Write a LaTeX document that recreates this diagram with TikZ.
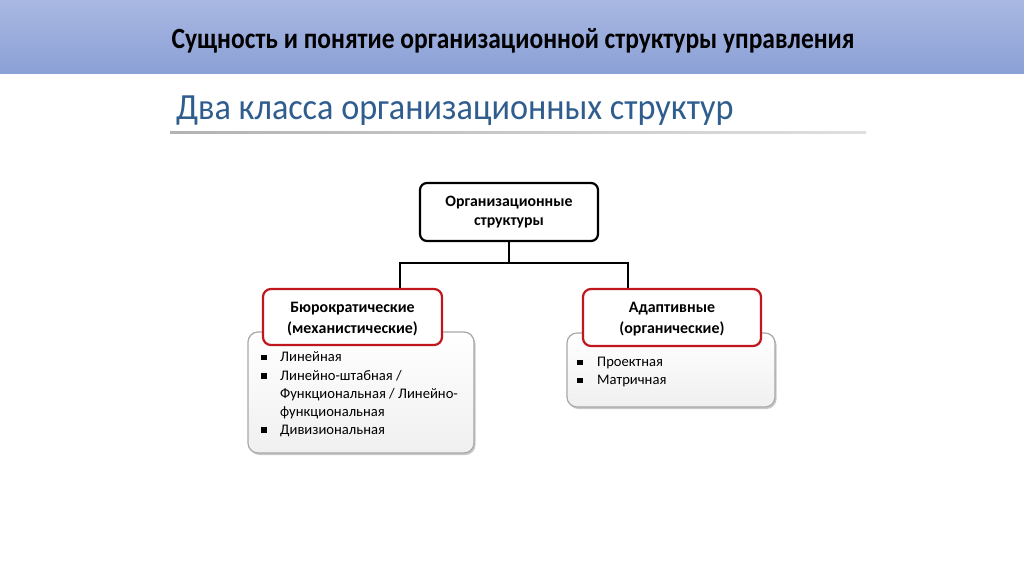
\documentclass[tikz,border=0pt]{standalone}
\usepackage{fontspec}
\setmainfont{Carlito}
\usetikzlibrary{shadows}
\definecolor{hdtop}{HTML}{A9B8E2}
\definecolor{hdbot}{HTML}{8BA0D6}
\definecolor{subblue}{HTML}{2F5D8E}
\definecolor{redb}{HTML}{C0161E}
\definecolor{grayb}{HTML}{A8A8A8}
\tikzset{
  topbox/.style={draw=black,line width=2.2pt,rounded corners=7pt,fill=white},
  redbox/.style={draw=redb,line width=2.2pt,rounded corners=8pt,fill=white},
  graybox/.style={draw=grayb,line width=1.2pt,rounded corners=10pt,top color=white,bottom color=gray!12,
     drop shadow={shadow xshift=1.5pt,shadow yshift=-2pt,fill=black!35,opacity=0.6}},
  conn/.style={draw=black,line width=2pt},
  boxtext/.style={font=\bfseries\fontsize{15.8}{19}\selectfont,align=center},
  redtext/.style={font=\bfseries\fontsize{15.9}{21}\selectfont,align=center},
  itemtext/.style={font=\fontsize{14.6}{18}\selectfont,anchor=base west,inner sep=0pt},
}
\newcommand{\bul}{\rule[1.5pt]{5.5pt}{5.5pt}}
\begin{document}
\begin{tikzpicture}[x=1pt,y=-1pt]
\useasboundingbox (0,0) rectangle (1024,574);
\fill[white] (0,0) rectangle (1024,574);
% header
\shade[top color=hdtop,bottom color=hdbot] (0,0) rectangle (1024,73);
\node[font=\bfseries\fontsize{25.5}{28}\selectfont] (title) at (513,41) {\scalebox{1}[1.15]{Сущность и понятие организационной структуры управления}};
% subtitle
\node[font=\fontsize{34.2}{36}\selectfont,text=subblue,anchor=west,inner sep=0pt] (sub) at (176,111) {\scalebox{1}[1.08]{Два класса организационных структур}};
\shade[left color=gray!60,right color=gray!25] (170,131) rectangle (866,133.5);
% top box
\draw[topbox] (420,183) rectangle (598,241);
\node[boxtext] (top) at (509,212.5) {Организационные\\структуры};
% gray boxes
\draw[graybox] (248,332) rectangle (474,453);
\draw[graybox] (567,333) rectangle (775,407);
% red boxes
\draw[redbox] (263,289) rectangle (442,345);
\node[redtext] (left) at (352.5,319) {Бюрократические\\(механистические)};
\draw[redbox] (583,289) rectangle (761,346);
\node[redtext] (right) at (672,319) {Адаптивные\\(органические)};
% connectors
\coordinate (j) at (509,263);
\draw[conn] (509,242) -- (j);
\draw[conn] (400,288) -- (400,263) -- (628,263) -- (628,288);
% items left
\node[itemtext] (l1) at (261,361.5) {\bul};
\node[itemtext] (l1t) at (280,361.5) {Линейная};
\node[itemtext] (l2) at (261,380) {\bul};
\node[itemtext] (l2t) at (280,380) {Линейно-штабная /};
\node[itemtext] (l2u) at (280,398) {Функциональная / Линейно-};
\node[itemtext] (l2v) at (280,416) {функциональная};
\node[itemtext] (l3) at (261,434) {\bul};
\node[itemtext] (l3t) at (280,434) {Дивизиональная};
% items right
\node[itemtext] (r1) at (577,366.5) {\bul};
\node[itemtext] (r1t) at (597,366.5) {Проектная};
\node[itemtext] (r2) at (577,384.5) {\bul};
\node[itemtext] (r2t) at (597,384.5) {Матричная};
\end{tikzpicture}
\end{document}
